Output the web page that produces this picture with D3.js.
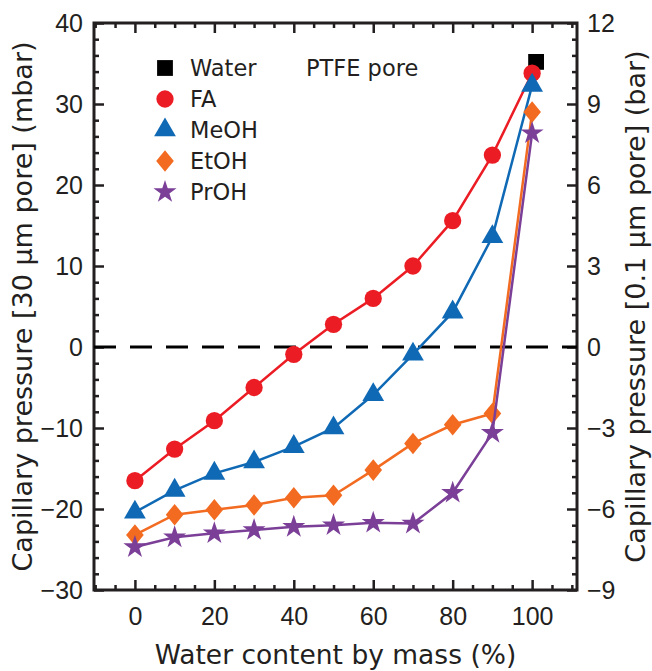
<!DOCTYPE html>
<html>
<head>
<meta charset="utf-8">
<script src="https://cdn.jsdelivr.net/npm/d3@7"></script>
<style>
  body { margin: 0; background: #fff; }
  svg { display: block; font-family: "DejaVu Sans", Verdana, sans-serif; }
  .tick text { fill: #231f20; }
</style>
</head>
<body>
<div id="chart"></div>
<script>
// --- data ---
const waterContent = [0, 10, 20, 30, 40, 50, 60, 70, 80, 90, 100];
const waterX = [101];
const waterY = [35.2];
const faY = [-16.5, -12.6, -9.1, -5.0, -0.9, 2.8, 6.0, 10.0, 15.6, 23.7, 33.8];
const meohY = [-20.4, -17.7, -15.6, -14.2, -12.3, -10.0, -5.9, -0.9, 4.3, 13.6, 32.3];
const etohY = [-23.2, -20.7, -20.1, -19.5, -18.6, -18.3, -15.2, -11.9, -9.6, -8.2, 29.0];
const prohY = [-24.7, -23.5, -23.0, -22.6, -22.2, -22.0, -21.7, -21.8, -18.0, -10.6, 26.4];

const seriesNames = ["Water", "FA", "MeOH", "EtOH", "PrOH"];
const seriesColors = ["#000000", "#ec1c24", "#0f69b4", "#f26b21", "#7b3f98"];

const xMajor = [0, 20, 40, 60, 80, 100];
const yLeftMajor = [-30, -20, -10, 0, 10, 20, 30, 40];
const yRightMajor = [-9, -6, -3, 0, 3, 6, 9, 12];

const width = 652;
const height = 671;
const margin = { top: 23, right: 75, bottom: 81, left: 94 };
const innerW = width - margin.left - margin.right;
const innerH = height - margin.top - margin.bottom;

const svg = d3
  .select("#chart")
  .append("svg")
  .attr("width", width)
  .attr("height", height);

const g = svg
  .append("g")
  .attr("transform", `translate(${margin.left},${margin.top})`);

const x = d3.scaleLinear().domain([-10.3, 111.3]).range([0, innerW]);
const y = d3.scaleLinear().domain([-30, 40]).range([innerH, 0]);
const y2 = d3.scaleLinear().domain([-9, 12]).range([innerH, 0]);

// minor ticks
const xMinor = d3.range(-10, 111, 5).filter((v) => v % 20 !== 0);
const yLeftMinor = d3.range(-30, 41, 2).filter((v) => v % 10 !== 0);
const yRightMinor = d3.range(-45, 61, 1).map((v) => v * 0.2).filter((v, i) => (i % 3 === 0) && Math.abs(v / 3 - Math.round(v / 3)) > 1e-6);

const fontTick = "25px";

function styleAxis(sel) {
  sel.select(".domain").remove();
  sel.selectAll("line").attr("stroke", "#231f20").attr("stroke-width", 2.5);
  sel.selectAll("text").style("font-size", fontTick);
}

// --- axes ---
g.append("g")
  .attr("transform", `translate(0,${innerH})`)
  .call(d3.axisBottom(x).tickValues(xMajor).tickSize(-10).tickPadding(17).tickFormat(d3.format("d")))
  .call(styleAxis);
g.append("g")
  .attr("transform", `translate(0,${innerH})`)
  .call(d3.axisBottom(x).tickValues(xMinor).tickSize(-5).tickFormat(""))
  .call(styleAxis);
g.append("g")
  .call(d3.axisTop(x).tickValues(xMajor).tickSize(-10).tickFormat(""))
  .call(styleAxis);
g.append("g")
  .call(d3.axisTop(x).tickValues(xMinor).tickSize(-5).tickFormat(""))
  .call(styleAxis);

g.append("g")
  .call(d3.axisLeft(y).tickValues(yLeftMajor).tickSize(-10).tickPadding(11).tickFormat(d3.format("d")))
  .call(styleAxis);
g.append("g")
  .call(d3.axisLeft(y).tickValues(yLeftMinor).tickSize(-5).tickFormat(""))
  .call(styleAxis);
g.append("g")
  .attr("transform", `translate(${innerW},0)`)
  .call(d3.axisRight(y2).tickValues(yRightMajor).tickSize(-10).tickPadding(10).tickFormat(d3.format("d")))
  .call(styleAxis);
g.append("g")
  .attr("transform", `translate(${innerW},0)`)
  .call(d3.axisRight(y2).tickValues(yRightMinor).tickSize(-5).tickFormat(""))
  .call(styleAxis);

// frame
g.append("rect")
  .attr("width", innerW)
  .attr("height", innerH)
  .attr("fill", "none")
  .attr("stroke", "#231f20")
  .attr("stroke-width", 3);

// zero line
g.append("line")
  .attr("x1", 0)
  .attr("x2", innerW)
  .attr("y1", y(0))
  .attr("y2", y(0))
  .attr("stroke", "#000")
  .attr("stroke-width", 3)
  .attr("stroke-dasharray", "22,14");

// --- marker shapes ---
const fatDiamond = {
  draw(context, size) {
    const h = Math.sqrt(size / 0.82) / 2;
    const w = h * 0.82;
    context.moveTo(0, -h);
    context.lineTo(w, 0);
    context.lineTo(0, h);
    context.lineTo(-w, 0);
    context.closePath();
  }
};
const shapes = [
  d3.symbol(d3.symbolSquare, 250),
  d3.symbol(d3.symbolCircle, 235),
  d3.symbol(d3.symbolTriangle, 205),
  d3.symbol(fatDiamond, 380),
  d3.symbol(d3.symbolStar, 165)
];

const line = d3
  .line()
  .x((d) => x(d[0]))
  .y((d) => y(d[1]));

const allSeries = [
  d3.zip(waterX, waterY),
  d3.zip(waterContent, faY),
  d3.zip(waterContent, meohY),
  d3.zip(waterContent, etohY),
  d3.zip(waterContent, prohY)
];

allSeries.forEach((pts, i) => {
  if (pts.length > 1) {
    g.append("path")
      .datum(pts)
      .attr("fill", "none")
      .attr("stroke", seriesColors[i])
      .attr("stroke-width", 2.5)
      .attr("d", line);
  }
  g.append("g")
    .selectAll("path")
    .data(pts)
    .join("path")
    .attr("transform", (d) => `translate(${x(d[0])},${y(d[1])})`)
    .attr("d", shapes[i]())
    .attr("fill", seriesColors[i]);
});

// --- legend ---
const legend = g.append("g").attr("transform", "translate(71,45)");
seriesNames.forEach((name, i) => {
  const row = legend.append("g").attr("transform", `translate(0,${i * 31})`);
  row.append("path").attr("d", shapes[i]()).attr("fill", seriesColors[i]);
  row.append("text")
    .attr("x", 25)
    .attr("y", 8)
    .style("font-size", "22.5px")
    .attr("fill", "#231f20")
    .text(name);
});

g.append("text")
  .attr("x", 212)
  .attr("y", 53)
  .style("font-size", "22.5px")
  .attr("fill", "#231f20")
  .text("PTFE pore");

// --- axis titles ---
svg.append("text")
  .attr("x", margin.left + innerW / 2)
  .attr("y", 664)
  .attr("text-anchor", "middle")
  .style("font-size", "26.5px")
  .attr("fill", "#231f20")
  .text("Water content by mass (%)");

svg.append("text")
  .attr("transform", `translate(32,${margin.top + innerH / 2}) rotate(-90)`)
  .attr("text-anchor", "middle")
  .style("font-size", "27px")
  .attr("fill", "#231f20")
  .text("Capillary pressure [30 µm pore] (mbar)");

svg.append("text")
  .attr("transform", `translate(645,${margin.top + innerH / 2}) rotate(-90)`)
  .attr("text-anchor", "middle")
  .style("font-size", "27px")
  .attr("fill", "#231f20")
  .text("Capillary pressure [0.1 µm pore] (bar)");
</script>
</body>
</html>
